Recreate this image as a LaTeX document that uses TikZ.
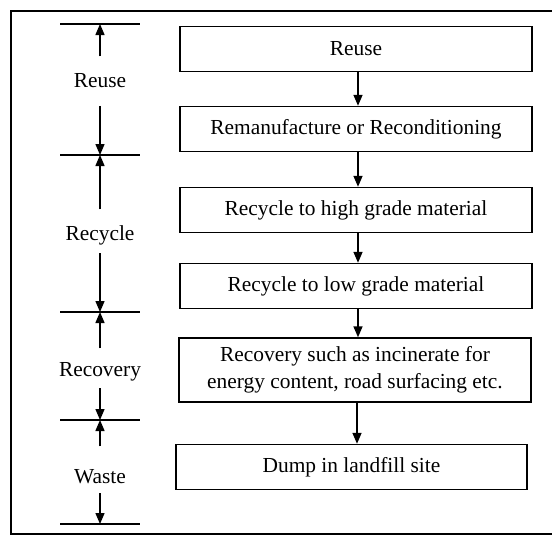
\documentclass[tikz,border=0pt]{standalone}
\usepackage{fontspec}
\setmainfont{Liberation Serif}
\usetikzlibrary{arrows.meta,positioning}

\begin{document}
\begin{tikzpicture}[>={Triangle[length=5.5pt,width=4.5pt]},x=0.5pt,y=-0.5pt,
  font=\fontsize{10.7}{13.5}\selectfont,line width=0.7pt,
  stage/.style={draw,minimum width=176pt,minimum height=22.5pt,inner sep=2pt,align=center},
  band/.style={anchor=base,inner sep=0pt}]
\useasboundingbox (0,0) rectangle (552,537);
\draw[line width=0.9pt] (552,11) -- (11,11) -- (11,534) -- (552,534);

% hierarchy on the right
\node[stage] (reuse) at (356,49) {Reuse};
\node[stage] (reman) at (356,129) {Remanufacture or Reconditioning};
\node[stage] (high) at (356,210) {Recycle to high grade material};
\node[stage] (low) at (356,286) {Recycle to low grade material};
\node[stage,minimum height=32pt] (recov) at (355,370) {Recovery such as incinerate for\\energy content, road surfacing etc.};
\node[stage,minimum width=175.5pt] (dump) at (351.5,467) {Dump in landfill site};
\foreach \a/\b in {reuse/reman,reman/high,high/low,low/recov,recov/dump}
  \draw[->] ([xshift=1pt]\a.south) -- ([xshift=1pt]\a.south |- \b.north);

% bands on the left
\node[band] (b-reuse) at (100,87) {Reuse};
\node[band] (b-recyc) at (100,240) {Recycle};
\node[band] (b-recov) at (100,376) {Recovery};
\node[band] (b-waste) at (100,483) {Waste};
\foreach \t/\y in {t0/24,t1/155,t2/312,t3/420,t4/524}{
  \coordinate (\t) at (100,\y);
  \draw ([xshift=-20]\t) -- ([xshift=20]\t);
}
\draw[->,shorten <=8pt] (b-reuse.north) -- (t0);
\draw[->,shorten <=9pt] (b-reuse.south) -- (t1);
\draw[->,shorten <=7.5pt] (b-recyc.north) -- (t1);
\draw[->,shorten <=4pt] (b-recyc.south) -- (t2);
\draw[->,shorten <=6.5pt] (b-recov.north) -- (t2);
\draw[->,shorten <=3.5pt] (b-recov.south) -- (t3);
\draw[->,shorten <=11pt] (b-waste.north) -- (t3);
\draw[->,shorten <=4.5pt] (b-waste.south) -- (t4);
\end{tikzpicture}
\end{document}
